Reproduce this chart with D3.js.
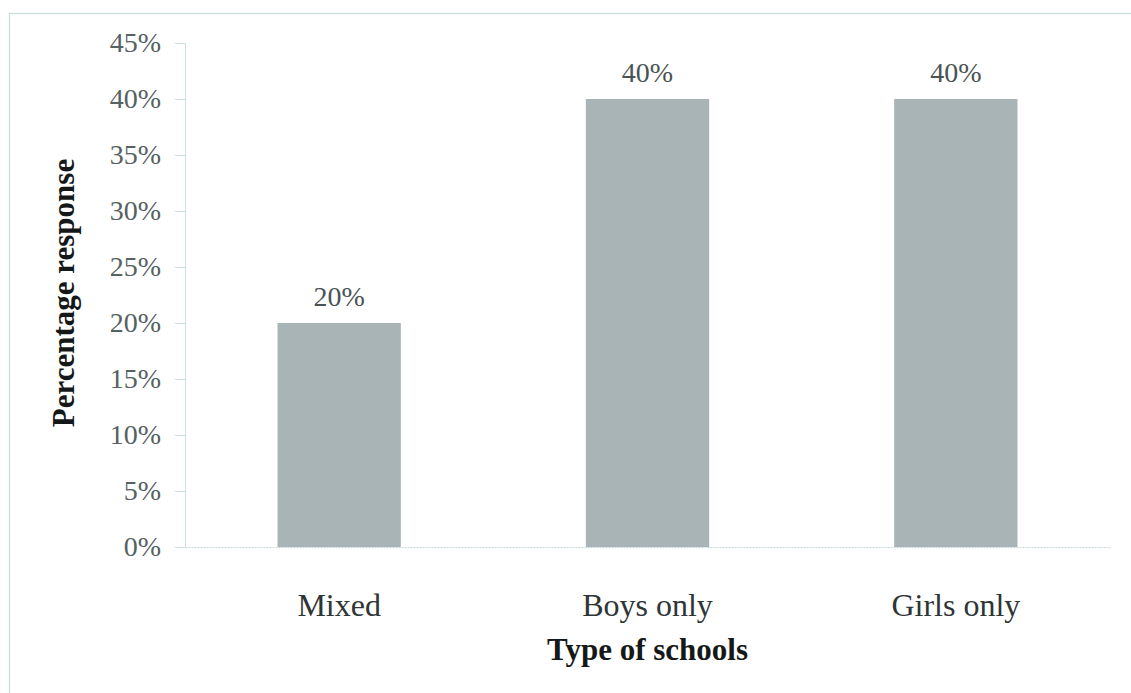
<!DOCTYPE html>
<html>
<head>
<meta charset="utf-8">
<script src="https://cdn.jsdelivr.net/npm/d3@7"></script>
<style>
  body { margin: 0; background: #fff; }
</style>
</head>
<body>
<svg id="chart" width="1131" height="693"></svg>
<script>
// data
var schools = ["Mixed", "Boys only", "Girls only"];
var response = [0.20, 0.40, 0.40];
var yTicks = [0, 0.05, 0.10, 0.15, 0.20, 0.25, 0.30, 0.35, 0.40, 0.45];

var serif = "'Liberation Serif', 'DejaVu Serif', serif";
var svg = d3.select("#chart");

// light frame round the chart area
svg.append("rect")
  .attr("x", 9.5).attr("y", 13.5)
  .attr("width", 1140).attr("height", 700)
  .attr("fill", "none")
  .attr("stroke", "#c9dadd")
  .attr("stroke-width", 1.2);

var plotLeft = 185, plotRight = 1110, plotTop = 43, plotBottom = 547;

var x = d3.scaleBand()
  .domain(schools)
  .range([plotLeft, plotRight])
  .paddingInner(0.6)
  .paddingOuter(0.3);

var y = d3.scaleLinear()
  .domain([0, 0.45])
  .range([plotBottom, plotTop]);

// y axis
var yAxis = svg.append("g")
  .attr("transform", "translate(" + plotLeft + ",0)")
  .call(d3.axisLeft(y).tickValues(yTicks).tickSize(10).tickPadding(14)
    .tickFormat(d3.format(".0%")));
yAxis.attr("font-family", null);
yAxis.select(".domain").attr("stroke", "#d3e0e3");
yAxis.selectAll(".tick line").attr("stroke", "#d3e0e3");
yAxis.selectAll(".tick text")
  .style("font-family", serif)
  .attr("font-size", 28)
  .attr("fill", "#556163");

// bars
svg.selectAll(".bar")
  .data(response)
  .enter()
  .append("rect")
  .attr("class", "bar")
  .attr("x", function(d, i){ return x(schools[i]) })
  .attr("y", function(d){ return y(d) })
  .attr("width", x.bandwidth())
  .attr("height", function(d){ return plotBottom - y(d) })
  .attr("fill", "#a9b4b6");

// value labels above bars
svg.selectAll(".val")
  .data(response)
  .enter()
  .append("text")
  .attr("class", "val")
  .attr("x", function(d, i){ return x(schools[i]) + x.bandwidth() / 2 })
  .attr("y", function(d){ return y(d) - 17 })
  .attr("text-anchor", "middle")
  .style("font-family", serif)
  .attr("font-size", 28)
  .attr("fill", "#4a5354")
  .text(function(d){ return d3.format(".0%")(d) });

// x axis
var xAxis = svg.append("g")
  .attr("transform", "translate(0," + plotBottom + ")")
  .call(d3.axisBottom(x).tickSize(0).tickPadding(46));
xAxis.attr("font-family", null);
xAxis.select(".domain").attr("stroke", "#c5d6da").attr("stroke-dasharray", "2,1");
xAxis.selectAll(".tick text")
  .style("font-family", serif)
  .attr("font-size", 32)
  .attr("fill", "#2e3536");

// axis titles
svg.append("text")
  .attr("x", (plotLeft + plotRight) / 2)
  .attr("y", 660)
  .attr("text-anchor", "middle")
  .style("font-family", serif)
  .attr("font-size", 31)
  .attr("font-weight", "bold")
  .attr("fill", "#151818")
  .text("Type of schools");

svg.append("text")
  .attr("transform", "translate(74,293) rotate(-90)")
  .attr("text-anchor", "middle")
  .style("font-family", serif)
  .attr("font-size", 31)
  .attr("font-weight", "bold")
  .attr("fill", "#151818")
  .text("Percentage response");
</script>
</body>
</html>
